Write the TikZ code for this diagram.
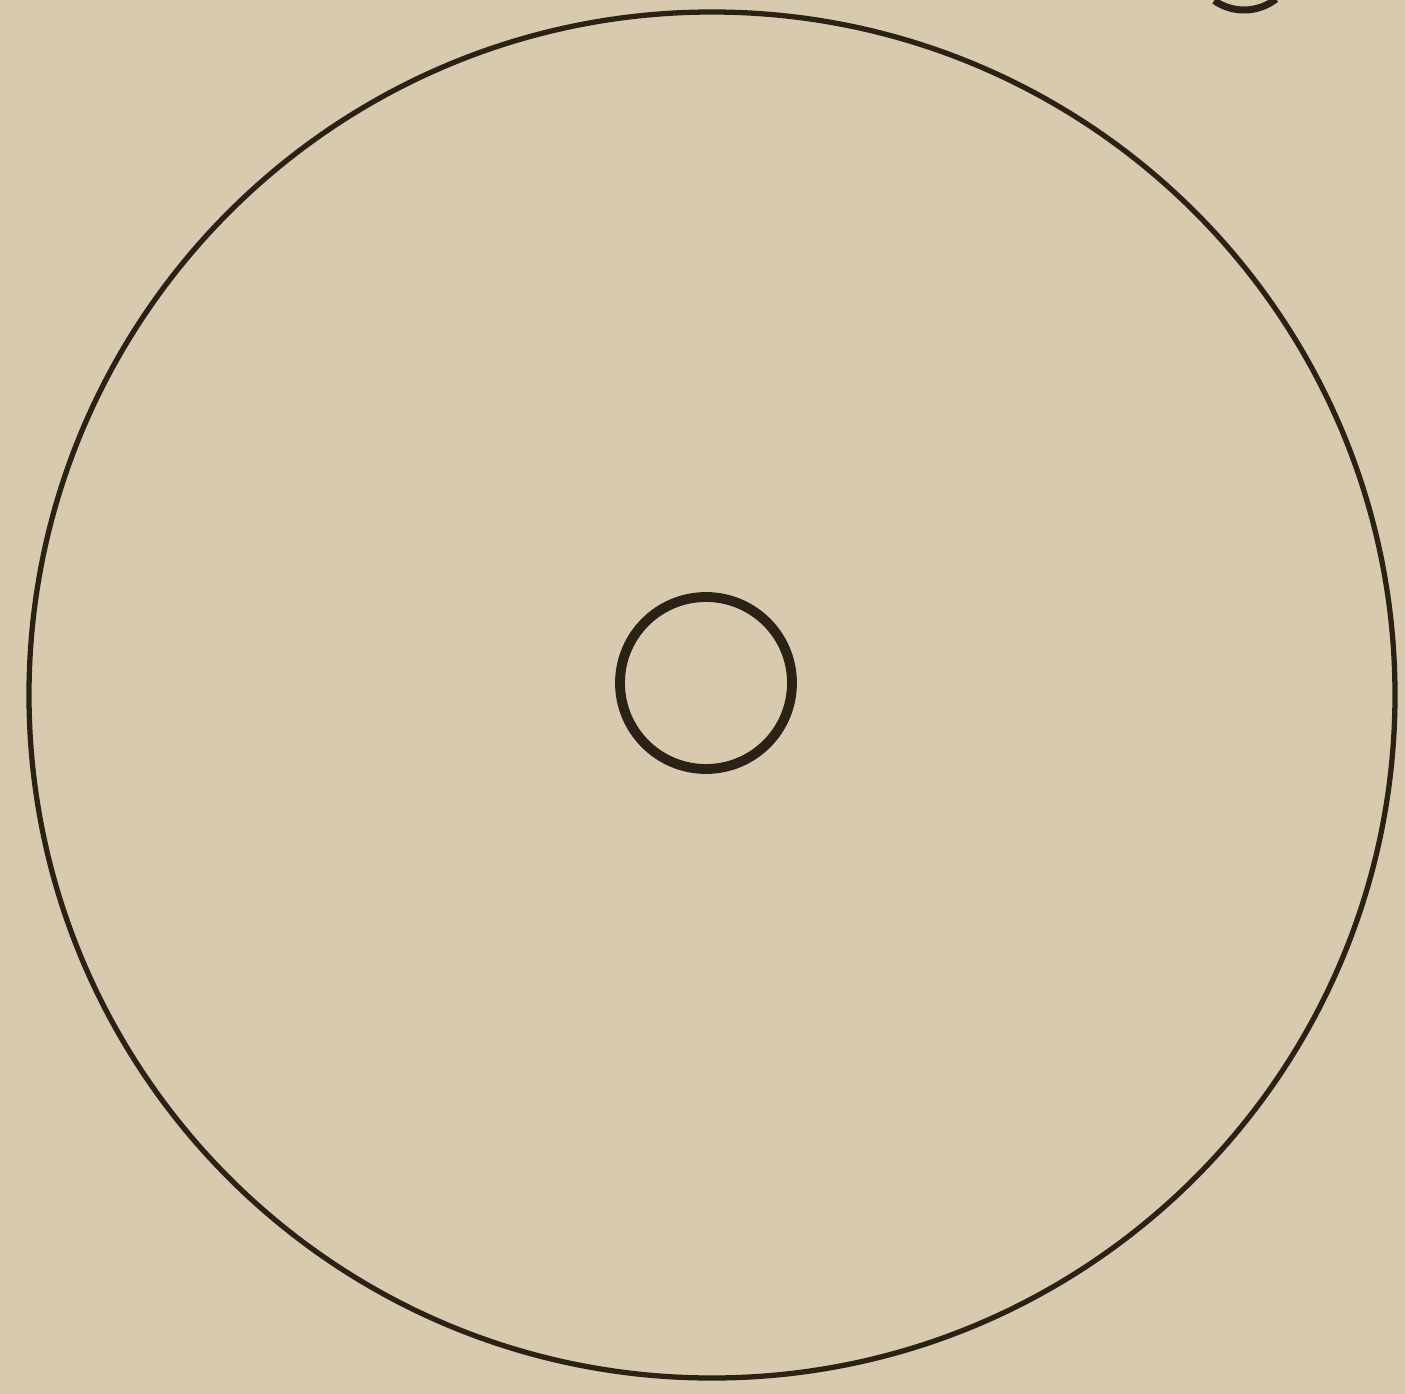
\documentclass[tikz,border=0pt]{standalone}
\usepackage{tikz}
\usetikzlibrary{positioning}
\definecolor{Paper}{HTML}{D7CAAF}
\definecolor{Ink}{HTML}{2B2216}
\tikzset{
  ring/.style={circle,draw=Ink,fill=none,inner sep=0pt},
  outerring/.style={ring,line width=1.5pt,minimum size=13.66cm},
  innerring/.style={ring,line width=2.8pt,minimum size=1.72cm},
  fragment/.style={draw=Ink,line width=2pt}
}
\begin{document}
\begin{tikzpicture}[x=1cm,y=1cm]
    \fill[Paper] (0,0) rectangle (14.05,-13.94);
    \useasboundingbox (0,0) rectangle (14.05,-13.94);
    \node[outerring] (disc) at (7.12,-6.95) {};
    \node[innerring] (hub) at (7.06,-6.83) {};
    \coordinate (frag) at (12.44,0.42);
    \draw[fragment] ([shift={(-125:0.52)}]frag) arc[start angle=-125,end angle=-52,radius=0.52];
  \end{tikzpicture}
\end{document}
